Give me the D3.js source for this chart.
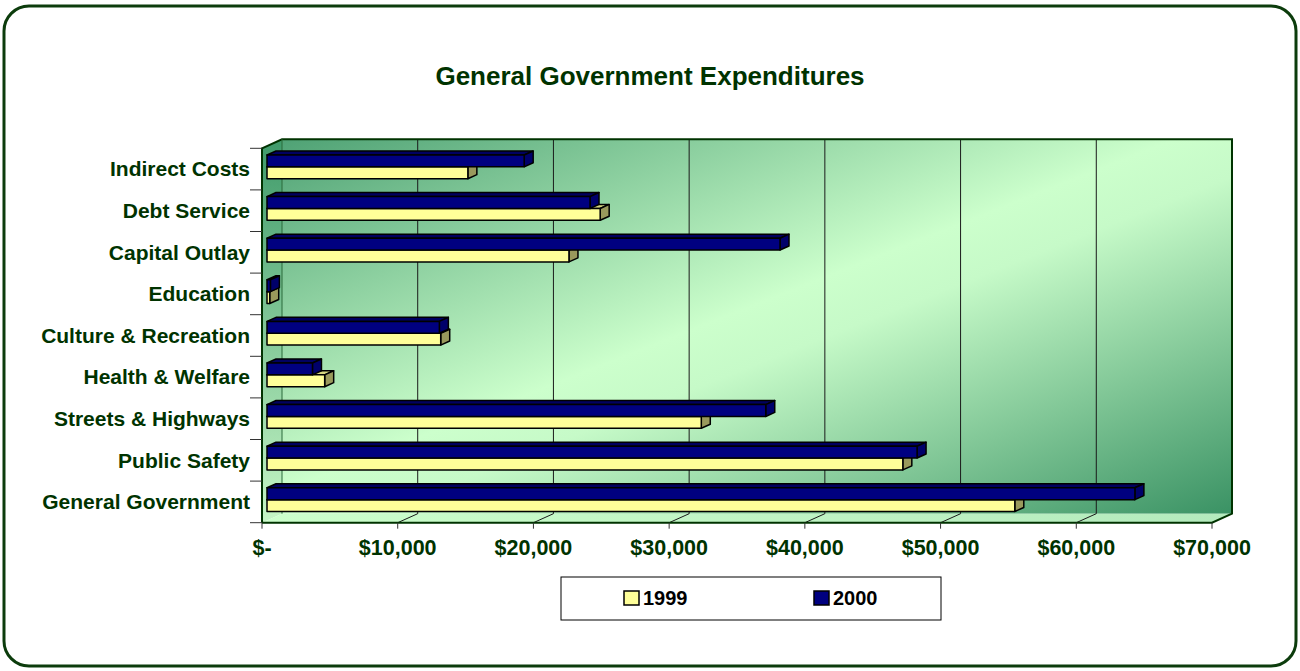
<!DOCTYPE html>
<html>
<head>
<meta charset="utf-8">
<script src="https://cdn.jsdelivr.net/npm/d3@7"></script>
<style>
  body { margin: 0; background: #fff; }
  text { font-family: Arial, "Liberation Sans", sans-serif; font-weight: bold; }
</style>
</head>
<body>
<script>
// categories listed bottom to top, like the chart
const categories = ["General Government", "Public Safety", "Streets & Highways", "Health & Welfare",
  "Culture & Recreation", "Education", "Capital Outlay", "Debt Service", "Indirect Costs"];
const values1999 = [55100, 46850, 32000, 4250, 12800, 200, 22250, 24550, 14800];
const values2000 = [63950, 47900, 36750, 3350, 12700, 250, 37800, 23800, 18950];
const seriesNames = ["1999", "2000"];
const xTicks = [0, 10000, 20000, 30000, 40000, 50000, 60000, 70000];

const width = 1300;
const height = 671;

// front plane of the 3d box
const plotLeft = 262, plotRight = 1212, plotTop = 148.3, plotBottom = 522.7;
// depth offset of the box
const DX = 20, DY = -9;
// bars sit between these depths
const z0 = 0.25, z1 = 0.7;

const green = "#003300";

const svg = d3.select("body")
  .append("svg")
  .attr("width", width)
  .attr("height", height);

const defs = svg.append("defs");

const wallGrad = defs.append("linearGradient")
  .attr("id", "wall")
  .attr("x1", 0).attr("y1", 0).attr("x2", 1).attr("y2", 1);
wallGrad.append("stop").attr("offset", 0).attr("stop-color", "#4fa275");
wallGrad.append("stop").attr("offset", 0.47).attr("stop-color", "#ccffcc");
wallGrad.append("stop").attr("offset", 0.55).attr("stop-color", "#c6fac8");
wallGrad.append("stop").attr("offset", 1).attr("stop-color", "#3a9264");

const sideGrad = defs.append("linearGradient")
  .attr("id", "side")
  .attr("x1", 0).attr("y1", 0).attr("x2", 0).attr("y2", 1);
sideGrad.append("stop").attr("offset", 0).attr("stop-color", "#3f9a6a");
sideGrad.append("stop").attr("offset", 1).attr("stop-color", "#c6f6c6");

const floorGrad = defs.append("linearGradient")
  .attr("id", "floor")
  .attr("x1", 0).attr("y1", 0).attr("x2", 1).attr("y2", 0);
floorGrad.append("stop").attr("offset", 0).attr("stop-color", "#ccffcc");
floorGrad.append("stop").attr("offset", 1).attr("stop-color", "#b4eabd");

// outer frame
svg.append("rect")
  .attr("x", 4).attr("y", 6)
  .attr("width", 1292).attr("height", 660)
  .attr("rx", 25).attr("ry", 25)
  .attr("fill", "#fff")
  .attr("stroke", "#0c3c0c")
  .attr("stroke-width", 3);

// title
svg.append("text")
  .attr("x", 650).attr("y", 85)
  .attr("text-anchor", "middle")
  .attr("font-size", 26)
  .attr("fill", green)
  .text("General Government Expenditures");

// scales
const x = d3.scaleLinear()
  .domain([0, 70000])
  .range([plotLeft, plotRight]);

const y = d3.scaleBand()
  .domain(categories)
  .range([plotBottom, plotTop]);

const ySub = d3.scaleBand()
  .domain(["2000", "1999"])
  .range([0, y.bandwidth()])
  .paddingOuter(0.755);

const p = (px, py, d) => [px + d * DX, py + d * DY];
const poly = pts => "M" + pts.map(q => q.join(",")).join("L") + "Z";

// walls
svg.append("path")
  .attr("d", poly([p(plotLeft, plotTop, 1), p(plotRight, plotTop, 1), p(plotRight, plotBottom, 1), p(plotLeft, plotBottom, 1)]))
  .attr("fill", "url(#wall)");

svg.append("path")
  .attr("d", poly([p(plotLeft, plotTop, 0), p(plotLeft, plotTop, 1), p(plotLeft, plotBottom, 1), p(plotLeft, plotBottom, 0)]))
  .attr("fill", "url(#side)");

svg.append("path")
  .attr("d", poly([p(plotLeft, plotBottom, 0), p(plotRight, plotBottom, 0), p(plotRight, plotBottom, 1), p(plotLeft, plotBottom, 1)]))
  .attr("fill", "url(#floor)");

// gridlines on back wall and floor
const grid = svg.append("g")
  .attr("stroke", "#1a1a1a")
  .attr("stroke-width", 1)
  .attr("fill", "none");

grid.selectAll(".back")
  .data(xTicks.slice(1, -1))
  .join("path")
  .attr("class", "back")
  .attr("d", d => "M" + p(x(d), plotTop, 1) + "L" + p(x(d), plotBottom, 1));

grid.selectAll(".floor")
  .data(xTicks.slice(1, -1))
  .join("path")
  .attr("class", "floor")
  .attr("d", d => "M" + p(x(d), plotBottom, 0) + "L" + p(x(d), plotBottom, 1));

// box outline
svg.append("path")
  .attr("d", "M" + p(plotLeft, plotBottom, 0) + "L" + p(plotLeft, plotTop, 0) + "L" + p(plotLeft, plotTop, 1) +
    "L" + p(plotRight, plotTop, 1) + "L" + p(plotRight, plotBottom, 1) + "L" + p(plotRight, plotBottom, 0) +
    "L" + p(plotLeft, plotBottom, 0))
  .attr("fill", "none")
  .attr("stroke", green)
  .attr("stroke-width", 2);

svg.append("path")
  .attr("d", "M" + p(plotLeft, plotBottom, 1) + "L" + p(plotLeft, plotTop, 1))
  .attr("stroke", "#2a6a3a")
  .attr("stroke-width", 1);

// axis ticks
svg.append("g")
  .attr("stroke", "#333")
  .selectAll("line")
  .data(d3.range(categories.length + 1))
  .join("line")
  .attr("x1", plotLeft - 12).attr("x2", plotLeft)
  .attr("y1", i => plotBottom - i * y.step())
  .attr("y2", i => plotBottom - i * y.step());

svg.append("g")
  .attr("stroke", "#333")
  .selectAll("line")
  .data(xTicks)
  .join("line")
  .attr("x1", d => x(d)).attr("x2", d => x(d))
  .attr("y1", plotBottom).attr("y2", plotBottom + 6);

// category labels
svg.append("g")
  .attr("text-anchor", "end")
  .attr("font-size", 21)
  .attr("fill", green)
  .selectAll("text")
  .data(categories)
  .join("text")
  .attr("x", plotLeft - 12)
  .attr("y", d => y(d) + y.bandwidth() / 2)
  .attr("dy", "0.35em")
  .text(d => d);

// x tick labels
const fmt = d3.format(",");
svg.append("g")
  .attr("text-anchor", "middle")
  .attr("font-size", 21.5)
  .attr("fill", green)
  .selectAll("text")
  .data(xTicks)
  .join("text")
  .attr("x", d => x(d))
  .attr("y", 555)
  .text(d => d === 0 ? "$-" : "$" + fmt(d));

// bars
const colors = {
  "1999": { front: "#ffff99", top: "#d6d680", side: "#99995c" },
  "2000": { front: "#000080", top: "#000060", side: "#00006a" }
};

const rows = [];
categories.forEach((c, i) => {
  rows.push({ cat: c, series: "1999", value: values1999[i] });
  rows.push({ cat: c, series: "2000", value: values2000[i] });
});

const bar = svg.append("g")
  .attr("stroke", "#000")
  .attr("stroke-width", 1.5)
  .attr("stroke-linejoin", "round")
  .selectAll("g")
  .data(rows)
  .join("g");

bar.each(function (d) {
  const g = d3.select(this);
  const y0 = y(d.cat) + ySub(d.series);
  const y1 = y0 + ySub.bandwidth();
  const x0 = x(0), x1 = x(d.value);
  const c = colors[d.series];
  g.append("path")
    .attr("fill", c.top)
    .attr("d", poly([p(x0, y0, z0), p(x1, y0, z0), p(x1, y0, z1), p(x0, y0, z1)]));
  g.append("path")
    .attr("fill", c.side)
    .attr("d", poly([p(x1, y0, z0), p(x1, y1, z0), p(x1, y1, z1), p(x1, y0, z1)]));
  g.append("path")
    .attr("fill", c.front)
    .attr("d", poly([p(x0, y0, z0), p(x1, y0, z0), p(x1, y1, z0), p(x0, y1, z0)]));
});

// legend
const legend = svg.append("g");
legend.append("rect")
  .attr("x", 561).attr("y", 577)
  .attr("width", 380).attr("height", 43)
  .attr("fill", "#fff")
  .attr("stroke", "#000")
  .attr("stroke-width", 1);

const legendX = [624, 814];
const item = legend.selectAll(".item")
  .data(seriesNames)
  .join("g")
  .attr("class", "item")
  .attr("transform", (d, i) => `translate(${legendX[i]},591)`);

item.append("rect")
  .attr("width", 15).attr("height", 14)
  .attr("fill", d => colors[d].front)
  .attr("stroke", "#000")
  .attr("stroke-width", 1.5);

item.append("text")
  .attr("x", 19).attr("y", 14)
  .attr("font-size", 20)
  .attr("fill", "#000")
  .text(d => d);
</script>
</body>
</html>
